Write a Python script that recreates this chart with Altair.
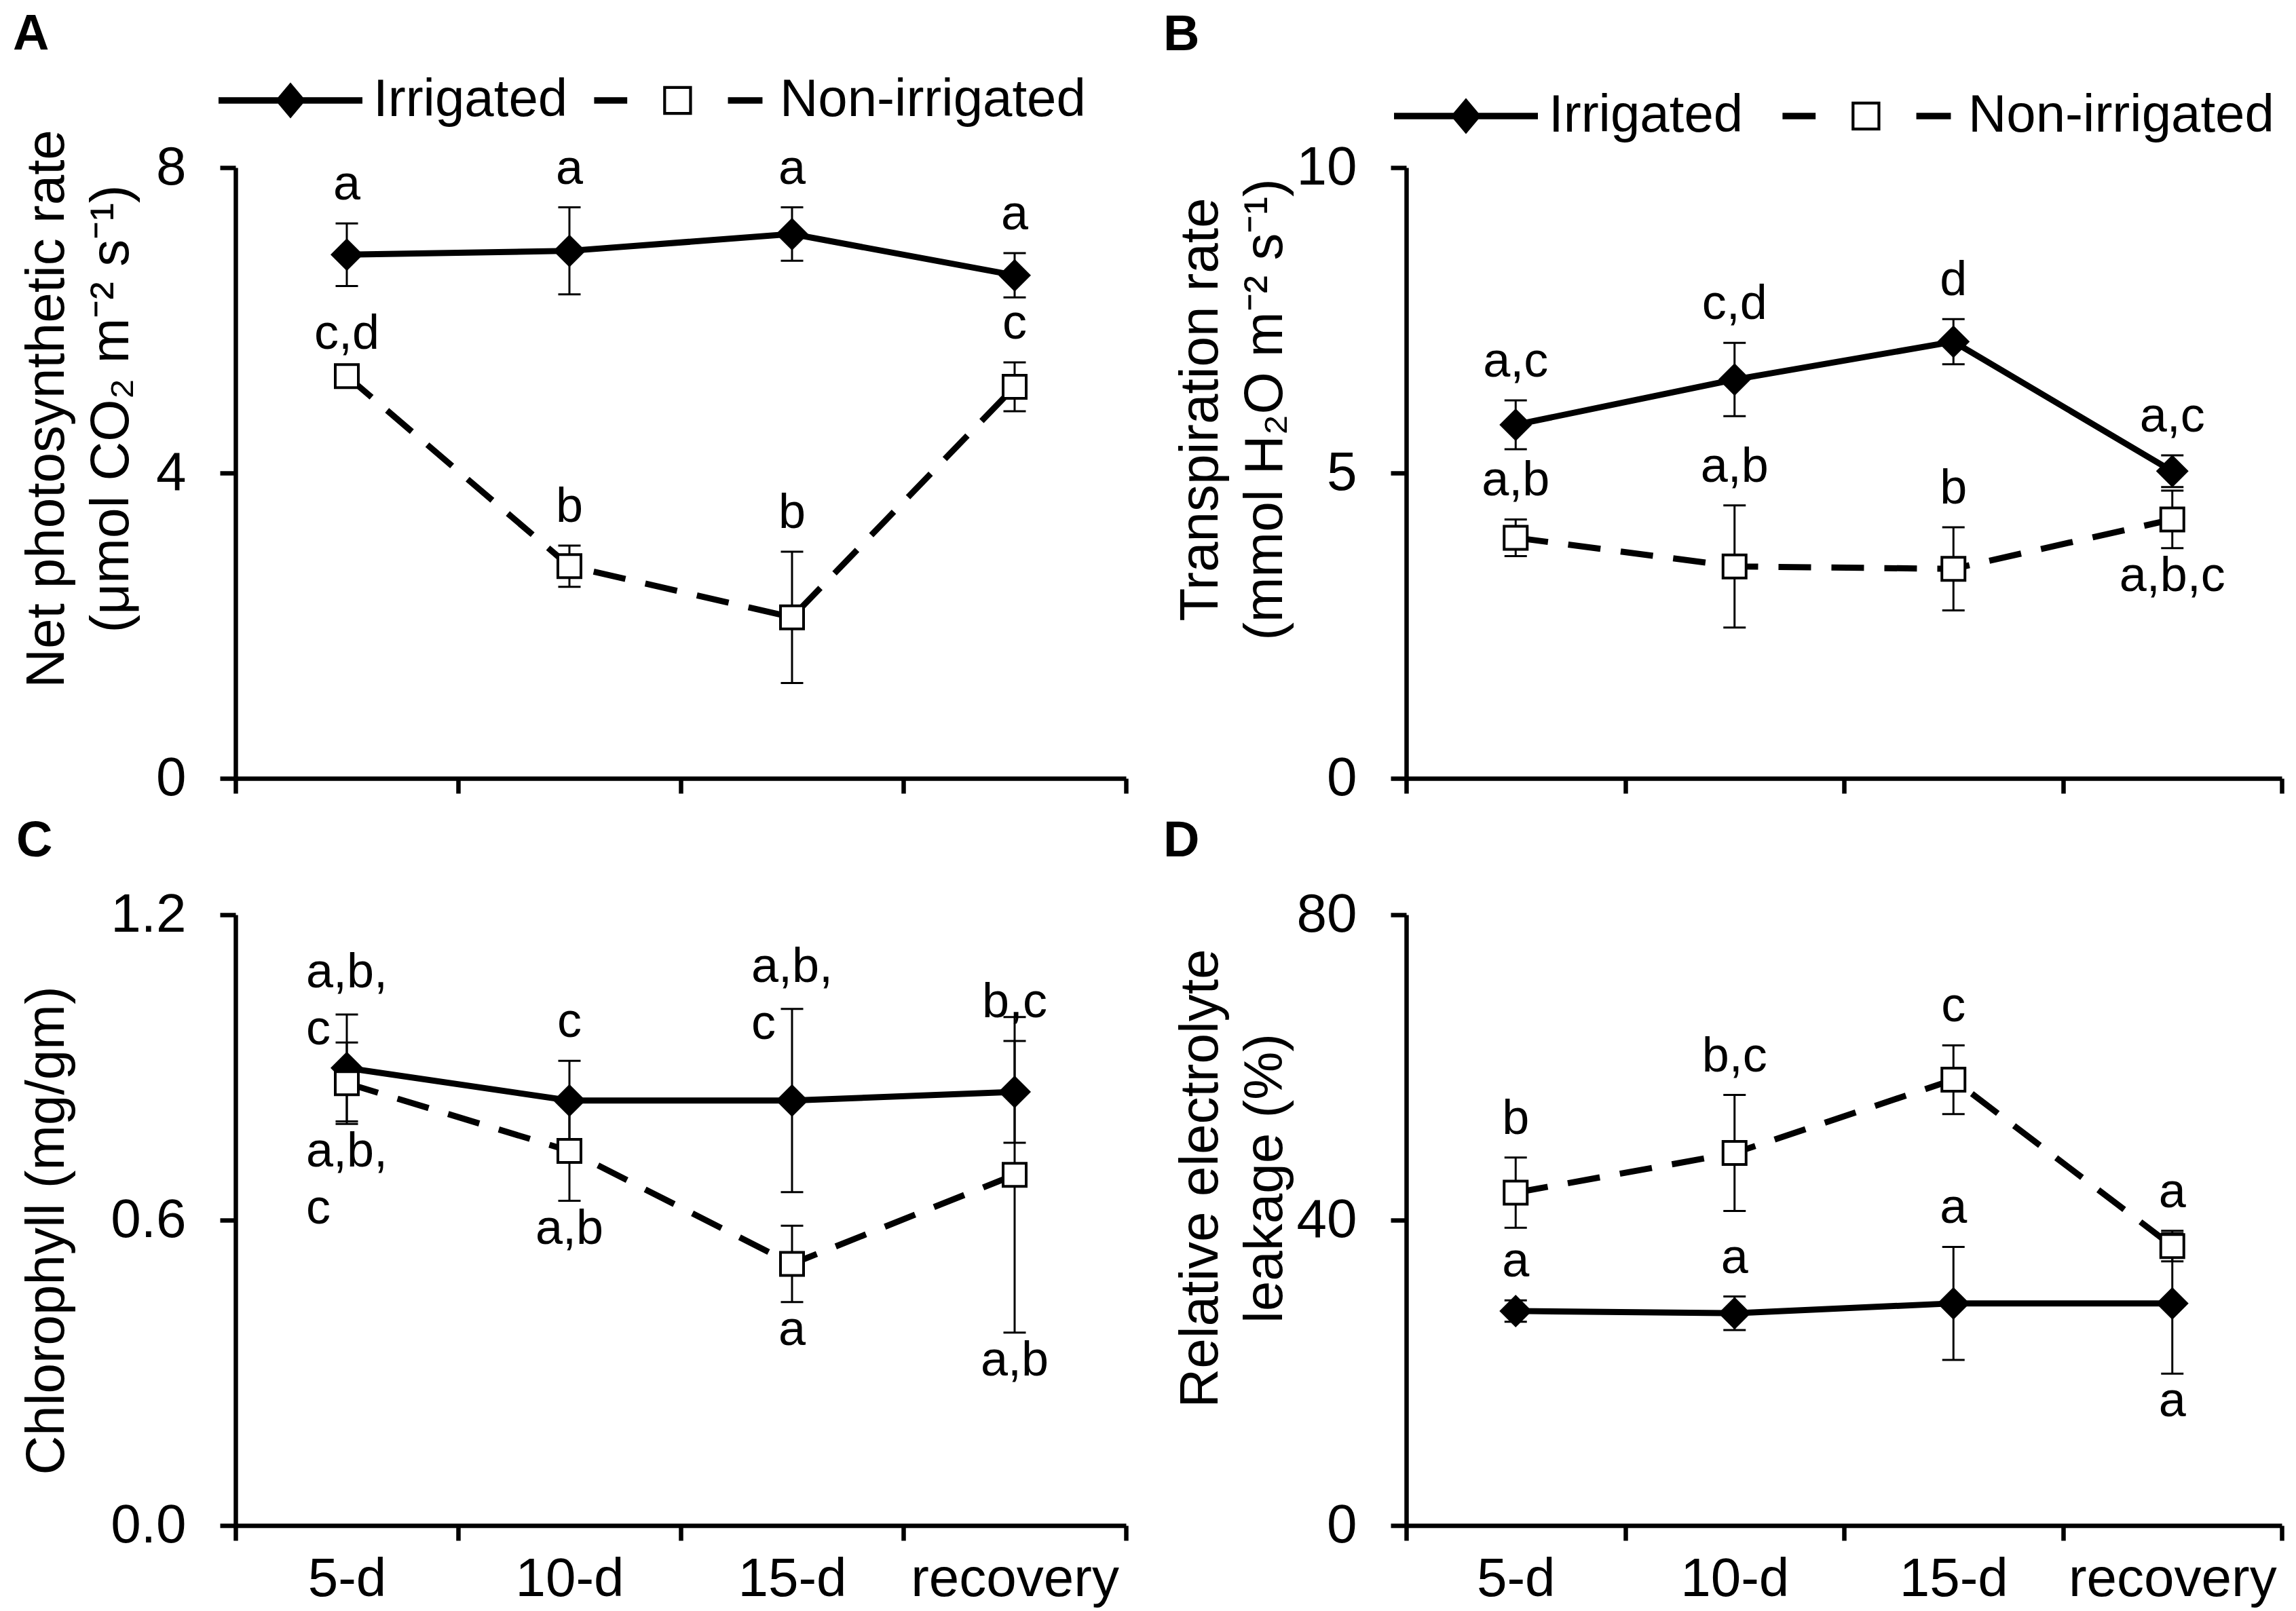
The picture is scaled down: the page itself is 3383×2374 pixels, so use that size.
import altair as alt
import pandas as pd

days = ["5-d", "10-d", "15-d", "recovery"]
series_names = ["Irrigated", "Non-irrigated"]

# Panel A - net photosynthetic rate
A_irr = [6.86, 6.91, 7.13, 6.59]
A_irr_se = [0.41, 0.57, 0.35, 0.29]
A_non = [5.27, 2.78, 2.11, 5.13]
A_non_se = [0.05, 0.27, 0.86, 0.32]
A_irr_lbl = ["a", "a", "a", "a"]
A_non_lbl = ["c,d", "b", "b", "c"]
A_irr_side = ["above", "above", "above", "above"]
A_non_side = ["above", "above", "above", "above"]

# Panel B - transpiration rate
B_irr = [5.79, 6.53, 7.15, 5.03]
B_irr_se = [0.40, 0.60, 0.37, 0.26]
B_non = [3.94, 3.47, 3.43, 4.24]
B_non_se = [0.30, 1.00, 0.68, 0.47]
B_irr_lbl = ["a,c", "c,d", "d", "a,c"]
B_non_lbl = ["a,b", "a,b", "b", "a,b,c"]
B_irr_side = ["above", "above", "above", "above"]
B_non_side = ["above", "above", "above", "below"]

# Panel C - chlorophyll
C_irr = [0.899, 0.835, 0.835, 0.852]
C_irr_se = [0.105, 0.078, 0.180, 0.100]
C_non = [0.869, 0.736, 0.514, 0.689]
C_non_se = [0.080, 0.098, 0.075, 0.310]
C_irr_lbl = ["a,b,|c", "c", "a,b,|c", "b,c"]
C_non_lbl = ["a,b,|c", "a,b", "a", "a,b"]
C_irr_side = ["above", "above", "above", "above"]
C_non_side = ["below", "below", "below", "below"]

# Panel D - relative electrolyte leakage
D_irr = [28.1, 27.8, 29.1, 29.1]
D_irr_se = [1.4, 2.2, 7.4, 9.2]
D_non = [43.6, 48.8, 58.4, 36.6]
D_non_se = [4.6, 7.6, 4.5, 2.0]
D_irr_lbl = ["a", "a", "a", "a"]
D_non_lbl = ["b", "b,c", "c", "a"]
D_irr_side = ["above", "above", "above", "below"]
D_non_side = ["above", "above", "above", "above"]

panels = {
    "A": (A_irr, A_irr_se, A_irr_lbl, A_irr_side, A_non, A_non_se, A_non_lbl, A_non_side),
    "B": (B_irr, B_irr_se, B_irr_lbl, B_irr_side, B_non, B_non_se, B_non_lbl, B_non_side),
    "C": (C_irr, C_irr_se, C_irr_lbl, C_irr_side, C_non, C_non_se, C_non_lbl, C_non_side),
    "D": (D_irr, D_irr_se, D_irr_lbl, D_irr_side, D_non, D_non_se, D_non_lbl, D_non_side),
}

rows = []
for p, (im, ise, il, isd, nm, nse, nl, nsd) in panels.items():
    for s, m, se, lb, sd in (("Irrigated", im, ise, il, isd), ("Non-irrigated", nm, nse, nl, nsd)):
        for i, d in enumerate(days):
            rows.append(dict(panel=p, day=d, series=s, mean=m[i], se=se[i], label=lb[i], side=sd[i]))
df = pd.DataFrame(rows)

FONT = "Liberation Sans"

# legend symbols: line + marker drawn as one filled custom symbol path
PATH_IRR = "M-1,-0.045H1V0.045H-1Z M0,-0.25L0.21,0L0,0.25L-0.21,0Z"
PATH_NON = ("M-1.43,-0.045H-0.97V0.045H-1.43Z "
            "M-0.47,-0.2H-0.07V0.2H-0.47Z M-0.43,-0.16V0.16H-0.11V-0.16Z "
            "M0.43,-0.045H0.91V0.045H0.43Z")


def make_panel(p, width, ymax, yticks, yfmt, ytitle, tpad, titleY, show_x,
               title_dx, title_offset, legend_xy=None, col_pad=80):
    base = alt.Chart(df).transform_filter(alt.datum.panel == p).transform_calculate(
        lo="datum.mean - datum.se", hi="datum.mean + datum.se")

    xaxis = alt.Axis(title=None, labels=show_x, tickBand="extent", labelAngle=0,
                     labelPadding=18, tickSize=22, labelLimit=1000)
    X = alt.X("day:N", sort=days, scale=alt.Scale(paddingInner=0, paddingOuter=0), axis=xaxis)
    yscale = alt.Scale(domain=[0, ymax], nice=False, zero=True)
    yaxis = alt.Axis(values=yticks, format=yfmt, title=ytitle, titlePadding=tpad,
                     titleY=titleY, labelPadding=50, tickSize=23)

    def Y(f):
        return alt.Y(f + ":Q", scale=yscale, axis=yaxis)

    bars = base.mark_rule(color="black", strokeWidth=3).encode(x=X, y=Y("lo"), y2="hi:Q")
    cap_hi = base.mark_tick(color="black", thickness=3, size=33, opacity=1).encode(x=X, y=Y("hi"))
    cap_lo = base.mark_tick(color="black", thickness=3, size=33, opacity=1).encode(x=X, y=Y("lo"))

    irr = base.transform_filter(alt.datum.series == "Irrigated")
    non = base.transform_filter(alt.datum.series == "Non-irrigated")
    line_irr = irr.mark_line(color="black", strokeWidth=9).encode(x=X, y=Y("mean"))
    line_non = non.mark_line(color="black", strokeWidth=9, strokeDash=[48, 30]).encode(x=X, y=Y("mean"))
    pts_irr = irr.mark_point(shape="diamond", filled=True, color="black", size=2304,
                             opacity=1).encode(x=X, y=Y("mean"))
    pts_non = non.mark_square(fill="white", stroke="black", strokeWidth=4, size=1156,
                              opacity=1).encode(x=X, y=Y("mean"))

    tk = dict(font=FONT, fontSize=72, color="black")
    single = "indexof(datum.label, '|') < 0"
    wrap = "indexof(datum.label, '|') >= 0"
    t_above = base.transform_filter("datum.side == 'above' && " + single).mark_text(
        baseline="alphabetic", dy=-35, **tk).encode(x=X, y=Y("hi"), text="label:N")
    t_below = base.transform_filter("datum.side == 'below' && " + single).mark_text(
        baseline="top", dy=6, **tk).encode(x=X, y=Y("lo"), text="label:N")
    t_above_w = base.transform_filter("datum.side == 'above' && " + wrap).mark_text(
        baseline="alphabetic", dy=-40, align="left", dx=-60, lineBreak="|", lineHeight=84,
        **tk).encode(x=X, y=Y("hi"), text="label:N")
    t_below_w = base.transform_filter("datum.side == 'below' && " + wrap).mark_text(
        baseline="top", dy=6, align="left", dx=-60, lineBreak="|", lineHeight=84,
        **tk).encode(x=X, y=Y("lo"), text="label:N")

    layers = [bars, cap_hi, cap_lo, line_irr, line_non, pts_irr, pts_non,
              t_above, t_below, t_above_w, t_below_w]

    if legend_xy is not None:
        leg = alt.Legend(orient="none", legendX=legend_xy[0], legendY=legend_xy[1],
                         direction="horizontal", title=None, labelFont=FONT,
                         labelFontSize=78, labelColor="black", labelLimit=3000,
                         symbolSize=44944, symbolStrokeWidth=0, symbolFillColor="black",
                         symbolOpacity=1, labelOffset=16, columnPadding=col_pad, padding=0)
        key = base.mark_point(opacity=0, filled=True, color="black").encode(
            x=X, y=Y("mean"),
            shape=alt.Shape("series:N", scale=alt.Scale(domain=series_names, range=[PATH_IRR, PATH_NON]), legend=leg),
        )
        layers.append(key)

    return alt.layer(*layers).properties(
        width=width, height=900,
        title=alt.TitleParams(p, anchor="start", frame="group", orient="top", dx=title_dx,
                              offset=title_offset, baseline="top", fontSize=74,
                              fontWeight="bold", font=FONT, color="black"),
    )


pA = make_panel("A", 1312, 8, [0, 4, 8], "d",
                ["Net photosynthetic rate", "(μmol CO₂ m⁻² s⁻¹)"], 24, 355, False,
                -328, -47, legend_xy=(-25, -205), col_pad=38)
pB = make_panel("B", 1290, 10, [0, 5, 10], "d",
                ["Transpiration rate", "(mmol H₂O m⁻² s⁻¹)"], 5, 356, False,
                -358, -25, legend_xy=(-18, -182), col_pad=57)
pC = make_panel("C", 1312, 1.2, [0, 0.6, 1.2], ".1f", "Chlorophyll (mg/gm)", 52, 465, True,
                -323, 30)
pD = make_panel("D", 1290, 80, [0, 40, 80], "d",
                ["Relative electrolyte", "leakage (%)"], 5, 388, True, -358, 30)

chart = alt.concat(pA, pB, pC, pD, columns=2, spacing={"row": 201, "column": 413},
                   bounds="flush").resolve_scale(shape="independent").resolve_legend(
    shape="independent").properties(
    padding={"left": 11, "top": 6, "right": 3, "bottom": 5}
).configure_view(stroke=None).configure_axis(
    domainColor="black", domainWidth=6.5, tickColor="black", tickWidth=6.5,
    labelFont=FONT, labelFontSize=80, labelColor="black",
    titleFont=FONT, titleFontSize=80, titleFontWeight="normal", titleColor="black",
    titleLineHeight=95, grid=False,
)

chart.save("out.html", embed_options={"renderer": "svg", "actions": False})
